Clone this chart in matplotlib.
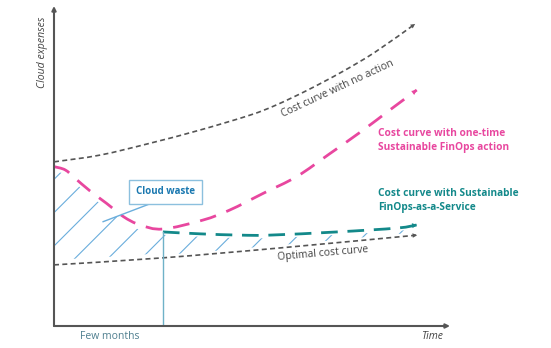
import numpy as np
import matplotlib.pyplot as plt
from matplotlib.path import Path
from matplotlib.patches import PathPatch

plt.rcParams['font.family'] = ['Open Sans', 'DejaVu Sans']
plt.rcParams['hatch.linewidth'] = 0.8
plt.rcParams['hatch.color'] = '#6aaedc'

# cost curves (time and cost on a 0-100 scale)
no_action_t = [0, 11.6, 24.2, 36.9, 49.5, 56, 64.1, 72.7, 81.1, 91.2]
no_action_c = [51.3, 53.4, 57.1, 61.25, 65.9, 69.0, 73.75, 79.4, 85.6, 94.4]

one_time_t = [0, 2.8, 5.3, 9.1, 13.3, 17.5, 21.7, 27.5, 37.6, 44.4, 52.9, 61.3, 69.7, 78.1, 84.8, 91.6]
one_time_c = [49.8, 48.8, 46.2, 42.2, 38.3, 34.2, 31.6, 30.3, 33.1, 36.25, 41.5, 46.7, 53.9, 61.25, 67.5, 73.75]

service_t = [27.5, 36.9, 47, 54.5, 71.5, 86.6, 91.7]
service_c = [29.4, 28.8, 28.4, 28.4, 29.4, 30.6, 31.6]

optimal_t = [0, 27.5, 57.1, 91.7]
optimal_c = [19.1, 21.3, 24.4, 28.4]

few_months = 27.5

gray = '#555555'
pink = '#e8479f'
teal = '#13898a'
blue = '#1a78b0'
light_blue = '#6aaedc'

fig = plt.figure(figsize=(5.51, 3.48), dpi=100)
ax = fig.add_axes([54/551, 22/348, 396/551, 320/348])
ax.set_xlim(0, 100)
ax.set_ylim(0, 100)
ax.axis('off')

# axes with arrow heads
for end in [(0, 100), (100, 0)]:
    ax.annotate('', xy=end, xytext=(0, 0),
                arrowprops=dict(arrowstyle='-|>', color=gray, lw=1.5, mutation_scale=6,
                                shrinkA=0, shrinkB=0), annotation_clip=False)


def smooth_path(t, c):
    # catmull-rom through the points, as cubic bezier segments
    p = np.column_stack([t, c]).astype(float)
    verts = [p[0]]
    codes = [Path.MOVETO]
    for i in range(len(p) - 1):
        p0 = p[i - 1] if i > 0 else p[i]
        p3 = p[i + 2] if i + 2 < len(p) else p[i + 1]
        c1 = p[i] + (p[i + 1] - p0) / 6
        c2 = p[i + 1] - (p3 - p[i]) / 6
        verts += [c1, c2, p[i + 1]]
        codes += [Path.CURVE4] * 3
    return Path(verts, codes), p[-1] - (p[-1] - verts[-2]) * 0.3


def curve(t, c, color, lw, dashes):
    path, tail = smooth_path(t, c)
    ax.add_patch(PathPatch(path, facecolor='none', edgecolor=color, lw=lw,
                           linestyle=(0, dashes), capstyle='butt'))
    ax.annotate('', xy=(t[-1], c[-1]), xytext=tuple(tail),
                arrowprops=dict(arrowstyle='-|>', color=color, lw=0, mutation_scale=7 + lw,
                                shrinkA=0, shrinkB=0))


def curve_at(t, c, x):
    path, _ = smooth_path(t, c)
    pts = path.interpolated(40).vertices
    return np.interp(x, pts[:, 0], pts[:, 1])


# cloud waste hatching
left_t = np.linspace(0, few_months, 80)
ax.fill_between(left_t, curve_at(one_time_t, one_time_c, left_t) - 1.5,
                curve_at(optimal_t, optimal_c, left_t) + 1.5,
                facecolor='none', edgecolor=light_blue, hatch='/', linewidth=0)
right_t = np.linspace(few_months, 91.7, 80)
ax.fill_between(right_t, curve_at(service_t, service_c, right_t) - 0.9,
                curve_at(optimal_t, optimal_c, right_t) + 0.9,
                facecolor='none', edgecolor=light_blue, hatch='/', linewidth=0)

ax.plot([few_months, few_months], [0, service_c[0]], color='#6fb2c8', lw=1)

curve(no_action_t, no_action_c, gray, 1.2, (3, 2))
curve(optimal_t, optimal_c, gray, 1.2, (3, 2))
curve(one_time_t, one_time_c, pink, 2, (6, 4))
curve(service_t, service_c, teal, 2, (6, 3.5))

ax.text(-2.8, 85.6, 'Cloud expenses', rotation=90, style='italic', color='#444444',
        fontsize=7.6, ha='center', va='center')
ax.text(95.5, -3.4, 'Time', style='italic', color='#444444', fontsize=7.5,
        ha='center', va='center')
ax.text(14.1, -3.4, 'Few months', color='#4f7f8f', fontsize=7.5, ha='center', va='center')

ax.text(71.7, 74.2, 'Cost curve with no action', rotation=25, color='#444444', fontsize=7.5,
        ha='center', va='center', rotation_mode='anchor')
ax.text(67.9, 22.6, 'Optimal cost curve', rotation=5, color='#444444', fontsize=7.5,
        ha='center', va='center', rotation_mode='anchor')

ax.text(81.8, 61.8, 'Cost curve with one-time\nSustainable FinOps action', color=pink,
        fontsize=7.3, fontweight='bold', ha='left', va='top', linespacing=1.35)
ax.text(81.8, 43, 'Cost curve with Sustainable\nFinOps-as-a-Service', color=teal,
        fontsize=7.3, fontweight='bold', ha='left', va='top', linespacing=1.35)

ax.plot([24.7, 12.4], [38.4, 32.6], color=light_blue, lw=1)
ax.text(28.1, 41.9, 'Cloud waste', color=blue, fontsize=7, fontweight='bold',
        ha='center', va='center',
        bbox=dict(boxstyle='square,pad=0.7', facecolor='white', edgecolor='#8cc0de', lw=1))

fig.savefig('out.png', dpi=100)
